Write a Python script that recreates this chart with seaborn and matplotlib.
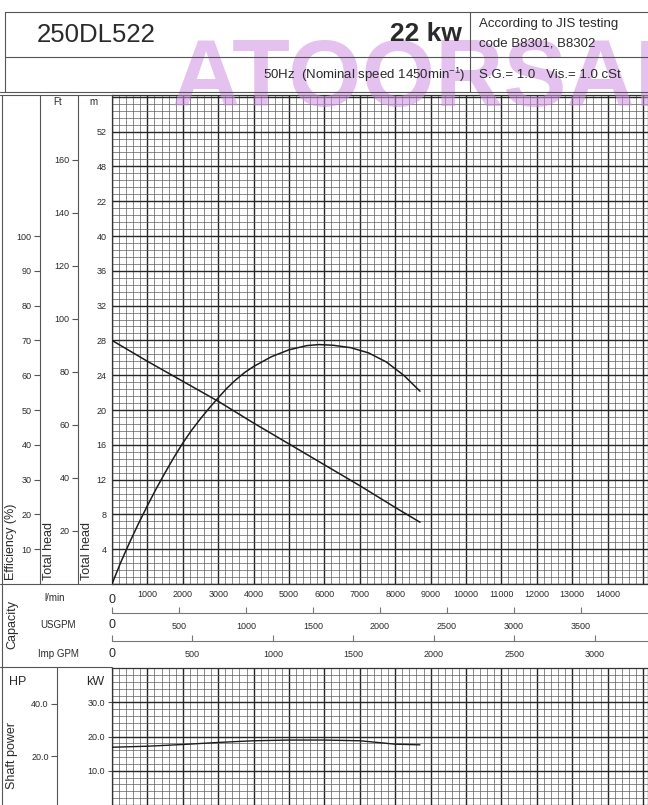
import numpy as np
import pandas as pd
import matplotlib
matplotlib.use("Agg")
import matplotlib.pyplot as plt
from matplotlib.lines import Line2D
import seaborn as sns

# ---------------- data ----------------
head_flow = [0, 1000, 2000, 3000, 4000, 5000, 6000, 7000, 8000, 8700]
head_m = [28.0, 25.6, 23.3, 21.0, 18.5, 16.1, 13.7, 11.3, 8.8, 7.1]

eff_flow = [0, 250, 500, 750, 1000, 1250, 1500, 1750, 2000, 2250, 2500, 2750,
            3000, 3250, 3500, 3750, 4000, 4500, 5000, 5500, 5850, 6250, 6750,
            7250, 7750, 8250, 8700]
eff_pct = [0, 6.3, 12.0, 17.4, 22.5, 27.4, 32.0, 36.4, 40.5, 44.2, 47.5, 50.6,
           53.5, 56.3, 58.7, 60.8, 62.5, 65.3, 67.3, 68.5, 68.8, 68.6, 67.9,
           66.4, 63.8, 59.9, 55.4]

power_flow = [0, 1000, 2000, 3000, 4000, 5000, 6000, 7000, 7500, 8000, 8700]
power_kw = [16.9, 17.2, 17.7, 18.3, 18.8, 19.0, 19.0, 18.8, 18.3, 17.8, 17.6]

lmin_ticks = list(range(0, 15001, 1000))
lmin_labels = [""] + [str(v) for v in range(1000, 14001, 1000)] + [""]
usgpm_ticks = [0, 500, 1000, 1500, 2000, 2500, 3000, 3500]
usgpm_labels = [""] + [str(v) for v in usgpm_ticks[1:]]
impgpm_ticks = [0, 500, 1000, 1500, 2000, 2500, 3000]
impgpm_labels = [""] + [str(v) for v in impgpm_ticks[1:]]
m_ticks = list(range(0, 57, 4))
m_labels = ["", "4", "8", "12", "16", "20", "24", "28", "32", "36", "40",
            "22", "48", "52", ""]
eff_ticks = [10, 20, 30, 40, 50, 60, 70, 80, 90, 100]
ft_ticks = [20, 40, 60, 80, 100, 120, 140, 160]
kw_ticks = [10, 20, 30]
kw_labels = ["10.0", "20.0", "30.0"]
hp_ticks = [20, 40]
hp_labels = ["20.0", "40.0"]

# unit relations of the chart's scales
L_PER_USGAL = 3.78541
L_PER_IMPGAL = 4.54609
FT_PER_M = 3.28084
KW_PER_HP = 0.7457
EFF_PER_M = 2.5  # 10 % drawn at the height of 4 m

# ---------------- layout (pixels) ----------------
W, H = 648, 805
X0, PX_PER_1000 = 112, 35.4
Y0, PX_PER_M = 584, 8.7
TOP = 95
XMAX = (W - X0) / PX_PER_1000 * 1000
YMAX = (Y0 - TOP) / PX_PER_M
P_TOP, P_BOT = 668, 805
P0, PX_PER_KW = 808.3, 3.5

sns.set_theme(style="white")
plt.rcParams["font.family"] = ["Liberation Sans", "DejaVu Sans"]
plt.rcParams["mathtext.fontset"] = "custom"
plt.rcParams["mathtext.rm"] = "Liberation Sans"
plt.rcParams["mathtext.it"] = "Liberation Sans"

fig = plt.figure(figsize=(W / 100, H / 100), dpi=100)
fig.patch.set_facecolor("white")


def rect(x0, y0, x1, y1):
    return [x0 / W, 1 - y1 / H, (x1 - x0) / W, (y1 - y0) / H]


def fx(x):
    return x / W


def fy(y):
    return 1 - y / H


def hline(x0, x1, y, color="#555555", lw=0.8, z=5):
    fig.add_artist(Line2D([fx(x0), fx(x1)], [fy(y), fy(y)], color=color, lw=lw, zorder=z))


def vline(x, y0, y1, color="#555555", lw=0.8, z=5):
    fig.add_artist(Line2D([fx(x), fx(x)], [fy(y0), fy(y1)], color=color, lw=lw, zorder=z))


TXT = "#2a2a2a"
MAJ = dict(color="#262626", lw=1.0)
MIN = dict(color="#5e5e5e", lw=0.5)


def paper_grid(ax, ymin, ylim):
    ax.set_xticks(np.arange(0, XMAX, 200), minor=True)
    ax.set_yticks(np.arange(ylim[0] - ylim[0] % ymin, ylim[1], ymin), minor=True)
    ax.grid(True, which="major", **MAJ)
    ax.grid(True, which="minor", **MIN)
    ax.set_axisbelow(True)
    for s in ax.spines.values():
        s.set_color("#333333")
        s.set_linewidth(0.9)


# ---------------- header ----------------
hline(5, W, 12)
hline(5, W, 57)
hline(0, W, 92)
vline(5, 12, 92)
vline(470, 12, 92)
fig.text(fx(37), fy(35), "250DL522", fontsize=18.5, color=TXT, va="center", ha="left", zorder=6)
fig.text(fx(462), fy(34), "22 kw", fontsize=19, fontweight="bold", color=TXT,
         va="center", ha="right", zorder=6)
fig.text(fx(479), fy(24), "According to JIS testing", fontsize=9.5, color=TXT,
         va="center", ha="left", zorder=6)
fig.text(fx(479), fy(43), "code B8301, B8302", fontsize=9.5, color=TXT,
         va="center", ha="left", zorder=6)
fig.text(fx(465), fy(75), r"50Hz  (Nominal speed 1450min$^{\mathregular{-1}}$)",
         fontsize=9.5, color=TXT, va="center", ha="right", zorder=6)
fig.text(fx(479), fy(75), "S.G.= 1.0   Vis.= 1.0 cSt", fontsize=9.5, color=TXT,
         va="center", ha="left", zorder=6)

# ---------------- main head / efficiency chart ----------------
ax = fig.add_axes(rect(X0, TOP, W, Y0))
ax.set_xlim(0, XMAX)
ax.set_ylim(0, YMAX)
ax.set_xticks(lmin_ticks, lmin_labels)
ax.set_yticks(m_ticks, m_labels)
paper_grid(ax, 0.8, (0, YMAX))
ax.tick_params(axis="both", which="both", length=0, labelsize=6.5, labelcolor=TXT)
ax.tick_params(axis="x", pad=4)
ax.tick_params(axis="y", pad=4)
sns.lineplot(x=head_flow, y=head_m, ax=ax, color="#1c1c1c", linewidth=1.1, zorder=4)
ax.set_xlabel("")
ax.set_ylabel("")

ax_e = ax.twinx()
ax_e.set_ylim(0, YMAX * EFF_PER_M)
sns.lineplot(x=eff_flow, y=eff_pct, ax=ax_e, color="#1c1c1c", linewidth=1.1, zorder=4)
ax_e.set_yticks([])
ax_e.set_xlabel("")
ax_e.set_ylabel("")
for s in ax_e.spines.values():
    s.set_visible(False)

# left scale columns
ax_eff = fig.add_axes(rect(40, TOP, 78, Y0))
ax_eff.set_ylim(0, YMAX * EFF_PER_M)
ax_eff.set_xticks([])
ax_eff.set_yticks(eff_ticks, [str(v) for v in eff_ticks])
ax_ft = fig.add_axes(rect(78, TOP, X0, Y0))
ax_ft.set_ylim(0, YMAX * FT_PER_M)
ax_ft.set_xticks([])
ax_ft.set_yticks(ft_ticks, [str(v) for v in ft_ticks])
for a in (ax_eff, ax_ft):
    a.patch.set_alpha(0)
    for k, s in a.spines.items():
        s.set_visible(k == "left")
        s.set_color("#555555")
        s.set_linewidth(0.8)
    a.tick_params(axis="y", direction="out", length=4, width=0.8, color="#555555",
                  labelsize=6.5, labelcolor=TXT, pad=2, left=True)

vline(2, TOP, H)
hline(0, X0, TOP)
hline(0, X0, Y0)
fig.text(fx(58), fy(102), "Ft", fontsize=7, color=TXT, ha="center", va="center")
fig.text(fx(93), fy(102), "m", fontsize=7, color=TXT, ha="center", va="center")
fig.text(fx(11), fy(580), "Efficiency (%)", fontsize=9, color=TXT, rotation=90,
         ha="center", va="bottom")
fig.text(fx(49), fy(580), "Total head", fontsize=9, color=TXT, rotation=90,
         ha="center", va="bottom")
fig.text(fx(87), fy(580), "Total head", fontsize=9, color=TXT, rotation=90,
         ha="center", va="bottom")

# ---------------- capacity scales ----------------
fig.text(fx(X0), fy(600), "0", fontsize=9, color=TXT, ha="center", va="center")
fig.text(fx(55), fy(598), "l/min", fontsize=7, color=TXT, ha="center", va="center")

ax_us = fig.add_axes(rect(X0, 612, W, 612.5))
ax_us.set_xlim(0, XMAX / L_PER_USGAL)
ax_us.set_xticks(usgpm_ticks, usgpm_labels)
ax_imp = fig.add_axes(rect(X0, 640, W, 640.5))
ax_imp.set_xlim(0, XMAX / L_PER_IMPGAL)
ax_imp.set_xticks(impgpm_ticks, impgpm_labels)
for a in (ax_us, ax_imp):
    a.set_yticks([])
    a.patch.set_alpha(0)
    for k, s in a.spines.items():
        s.set_visible(k == "bottom")
        s.set_color("#777777")
        s.set_linewidth(0.8)
    a.tick_params(axis="x", direction="in", length=4, width=0.8, color="#777777",
                  labelsize=6.5, labelcolor=TXT, pad=7, bottom=True)
fig.text(fx(X0), fy(625), "0", fontsize=9, color=TXT, ha="center", va="center")
fig.text(fx(X0), fy(654), "0", fontsize=9, color=TXT, ha="center", va="center")
fig.text(fx(58), fy(625), "USGPM", fontsize=7, color=TXT, ha="center", va="center")
fig.text(fx(58), fy(654), "Imp GPM", fontsize=7, color=TXT, ha="center", va="center")
fig.text(fx(12), fy(624), "Capacity", fontsize=9, color=TXT, rotation=90,
         ha="center", va="center")
hline(0, X0, 667)

# ---------------- shaft power chart ----------------
p_lim = ((P0 - P_BOT) / PX_PER_KW, (P0 - P_TOP) / PX_PER_KW)
axp = fig.add_axes(rect(X0, P_TOP, W, P_BOT))
axp.set_xlim(0, XMAX)
axp.set_ylim(*p_lim)
axp.set_xticks(lmin_ticks, [""] * len(lmin_ticks))
axp.set_yticks(kw_ticks, kw_labels)
paper_grid(axp, 2, p_lim)
axp.tick_params(axis="x", which="both", length=0)
axp.tick_params(axis="y", which="major", direction="out", length=3, width=0.8,
                color="#555555", labelsize=6.5, labelcolor=TXT, pad=2, left=True)
axp.tick_params(axis="y", which="minor", length=0)
sns.lineplot(x=power_flow, y=power_kw, ax=axp, color="#1c1c1c", linewidth=1.0, zorder=4)
axp.set_xlabel("")
axp.set_ylabel("")

ax_hp = fig.add_axes(rect(57, P_TOP, X0, P_BOT))
ax_hp.set_ylim(p_lim[0] / KW_PER_HP, p_lim[1] / KW_PER_HP)
ax_hp.set_xticks([])
ax_hp.set_yticks(hp_ticks, hp_labels)
ax_hp.patch.set_alpha(0)
for k, s in ax_hp.spines.items():
    s.set_visible(k == "left")
    s.set_color("#555555")
    s.set_linewidth(0.8)
ax_hp.tick_params(axis="y", direction="out", length=4, width=0.8, color="#555555",
                  labelsize=6.5, labelcolor=TXT, pad=2, left=True)
fig.text(fx(18), fy(682), "HP", fontsize=9, color=TXT, ha="center", va="center")
fig.text(fx(95), fy(682), "kW", fontsize=9, color=TXT, ha="center", va="center")
fig.text(fx(12), fy(755), "Shaft power", fontsize=9, color=TXT, rotation=90,
         ha="center", va="center")

# ---------------- watermark (under the header texts, over the grid) ----------------
fig.text(fx(172), fy(106), "ATOORSAN", fontsize=68, fontweight="bold",
         color="#cf8fe0", alpha=0.55, ha="left", va="baseline", zorder=1)

fig.savefig("out.png", dpi=100, facecolor="white")
